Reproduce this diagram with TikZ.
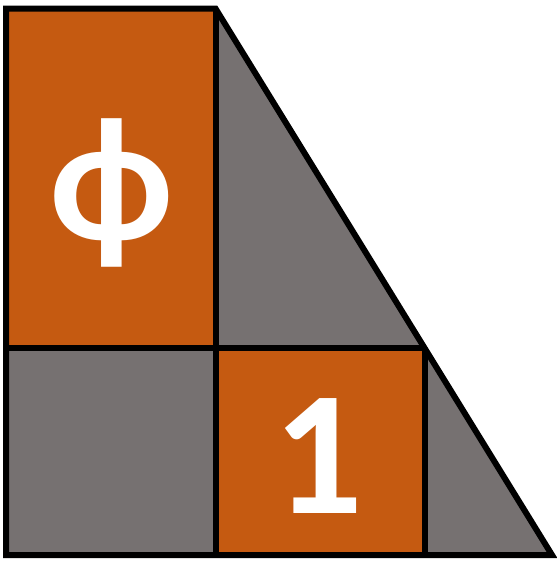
\documentclass[tikz,border=0pt]{standalone}
\usepackage{fontspec}
\newfontfamily\carlito{Carlito}
\definecolor{rust}{HTML}{C55A11}
\definecolor{slate}{HTML}{767171}
\tikzset{
  piece/.style={draw=black, line width=6pt, line join=miter},
  glyph/.style={text=white, font=\carlito\bfseries\fontsize{177}{177}\selectfont, inner sep=0pt}
}
\begin{document}
\begin{tikzpicture}[x=1pt,y=-1pt]
\useasboundingbox (0,0) rectangle (557,563);
% fills
\fill[rust] (6,8.5) rectangle (215.5,347.5);
\fill[slate] (215.5,8.5) -- (424.5,347.5) -- (215.5,347.5) -- cycle;
\fill[slate] (6,347.5) rectangle (215.5,555);
\fill[rust] (215.5,347.5) rectangle (424.5,555);
\fill[slate] (424.5,347.5) -- (552,555) -- (424.5,555) -- cycle;
% outlines
\draw[piece] (215.5,8.5) -- (6,8.5) -- (6,555) -- (552,555) -- cycle;
\draw[piece] (6,347.5) -- (424.5,347.5);
\draw[piece] (215.5,8.5) -- (215.5,555);
\draw[piece] (424.5,347.5) -- (424.5,555);
% labels
\node[glyph] (phi) at (111.5,193) {ϕ};
\node[glyph] (one) at (318,456) {1};
\end{tikzpicture}
\end{document}
